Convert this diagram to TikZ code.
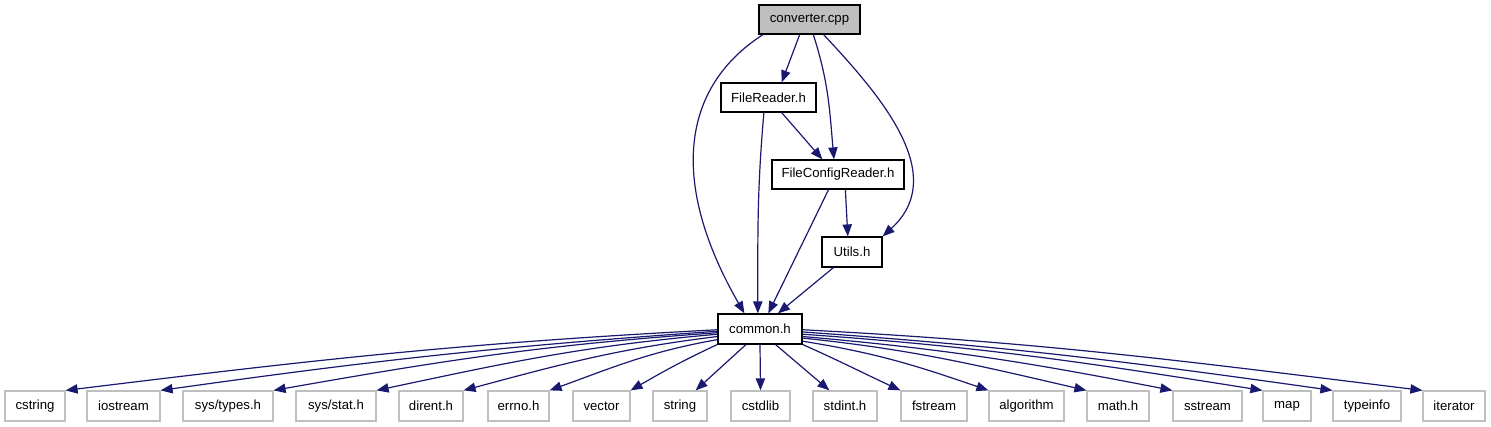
\documentclass[tikz,border=0pt]{standalone}
\usepackage{fontspec}
\setmainfont{Liberation Sans}
\usetikzlibrary{arrows.meta}
\definecolor{edgecol}{HTML}{191970}
\definecolor{lgray}{HTML}{BFBFBF}
\begin{document}
\begin{tikzpicture}[x=0.75pt,y=0.75pt,
  box/.style={draw=black, line width=0.9pt, fill=white, inner sep=0pt,
    minimum height=22.5pt, font=\fontsize{9.9}{12}\selectfont, text=black},
  ext/.style={box, draw=lgray},
  root/.style={box, fill=lgray},
  bw/.style={minimum width=#1*0.75pt},
  bh/.style={minimum height=#1*0.75pt},
  edge/.style={draw=edgecol, line width=0.9pt, -{Triangle[length=9pt,width=7pt]}}
]
\useasboundingbox (0,0) rectangle (1491,-427);
% main nodes
\node[root,bw=101,bh=29] (conv) at (809.5,-19.5) {converter.cpp};
\node[box,bw=95,bh=29] (fr) at (768.5,-97.5) {FileReader.h};
\node[box,bw=132,bh=29] (fcr) at (838,-174.5) {FileConfigReader.h};
\node[box,bw=60] (ut) at (852,-252) {Utils.h};
\node[box,bw=84] (com) at (760,-329) {common.h};
% bottom nodes
\node[ext,bw=60] (cstring) at (35,-406) {cstring};
\node[ext,bw=73] (iostream) at (123.5,-406) {iostream};
\node[ext,bw=90] (systypes) at (228,-406) {sys/types.h};
\node[ext,bw=80] (sysstat) at (336,-406) {sys/stat.h};
\node[ext,bw=64] (dirent) at (431,-406) {dirent.h};
\node[ext,bw=61] (errno) at (518.5,-406) {errno.h};
\node[ext,bw=57] (vector) at (601.5,-406) {vector};
\node[ext,bw=54] (string) at (680,-406) {string};
\node[ext,bw=59] (cstdlib) at (760.5,-406) {cstdlib};
\node[ext,bw=64] (stdint) at (845,-406) {stdint.h};
\node[ext,bw=66] (fstream) at (934,-406) {fstream};
\node[ext,bw=75] (algorithm) at (1026.5,-406) {algorithm};
\node[ext,bw=62] (math) at (1118,-406) {math.h};
\node[ext,bw=69] (sstream) at (1207.5,-406) {sstream};
\node[ext,bw=48] (map) at (1287,-406) {map};
\node[ext,bw=68] (typeinfo) at (1367,-406) {typeinfo};
\node[ext,bw=62] (iterator) at (1454,-406) {iterator};
% upper edges
\draw[edge] (conv.198) .. controls (680,-88) and (670,-184) .. (com.135);
\draw[edge] (conv.237) -- (fr.49);
\draw[edge] (conv.284) to[out=-72,in=95] (fcr.105);
\draw[edge] (conv.313) .. controls (880,-95) and (950,-175) .. (ut.north east);
\draw[edge] (fr.253) to[out=265,in=90] (com.98);
\draw[edge] (fr.311) -- (fcr.136);
\draw[edge] (fcr.238) -- (com.62);
\draw[edge] (fcr.296) -- (ut.105);
\draw[edge] (ut.220) -- (com.41);
% lower edges
\draw[edge] (com.181) to[out=183,in=7] (cstring.north east);
\draw[edge] (com.183) to[out=184,in=8] (iostream.north east);
\draw[edge] (com.185) to[out=184,in=10] (systypes.north east);
\draw[edge] (com.187) to[out=185,in=12] (sysstat.north east);
\draw[edge] (com.190) to[out=187,in=15] (dirent.north east);
\draw[edge] (com.194) to[out=190,in=20] (errno.north east);
\draw[edge] (com.200) to[out=205,in=30] (vector.north east);
\draw[edge] (com.228) -- (string.45);
\draw[edge] (com.south) -- (cstdlib.north);
\draw[edge] (com.315) -- (stdint.135);
\draw[edge] (com.340) to[out=-24,in=155] (fstream.north west);
\draw[edge] (com.344) to[out=-9,in=161] (algorithm.north west);
\draw[edge] (com.348) to[out=-6,in=167] (math.north west);
\draw[edge] (com.350.5) to[out=-5,in=169] (sstream.north west);
\draw[edge] (com.353) to[out=-4,in=171] (map.north west);
\draw[edge] (com.356) to[out=-4,in=172] (typeinfo.north west);
\draw[edge] (com.359) to[out=-3,in=173] (iterator.north west);
\end{tikzpicture}
\end{document}
